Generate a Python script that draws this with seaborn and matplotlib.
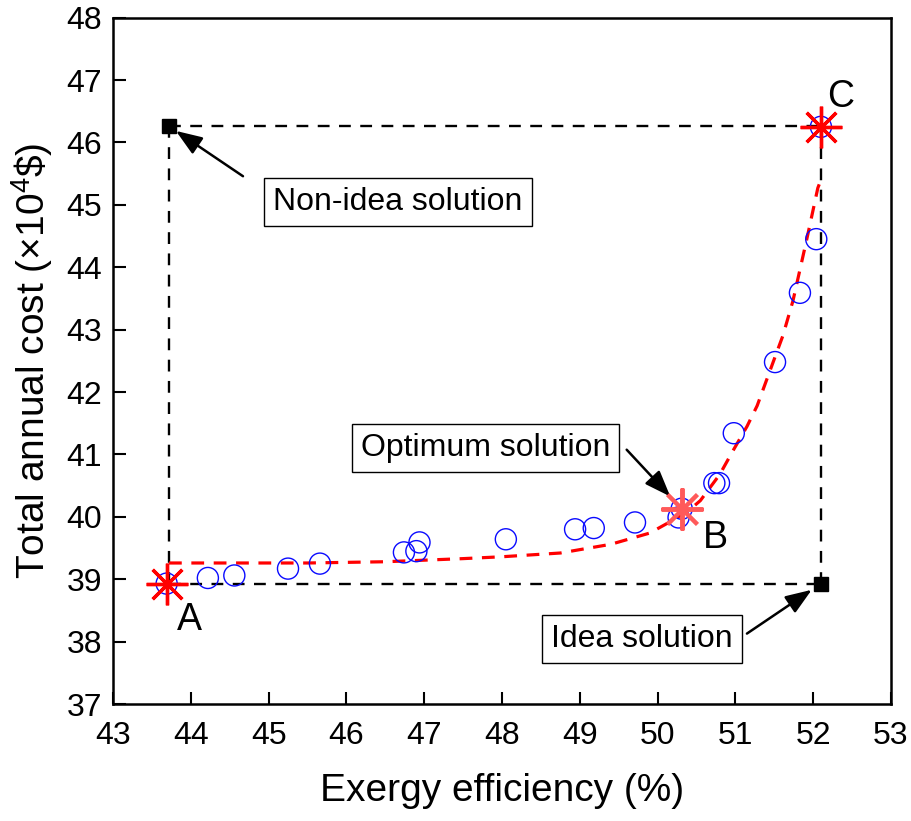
import numpy as np
import pandas as pd
import matplotlib
matplotlib.use("Agg")
import matplotlib.pyplot as plt
import seaborn as sns

# Pareto front: exergy efficiency (%) vs total annual cost (x10^4 $)
eff = [43.69, 44.22, 44.56, 45.25, 45.66, 46.74, 46.90, 46.94, 48.05,
       48.94, 49.18, 49.71, 50.27, 50.31, 50.73, 50.79, 50.98, 51.51,
       51.83, 52.04, 52.10]
cost = [38.93, 39.02, 39.06, 39.17, 39.25, 39.43, 39.45, 39.59, 39.64,
        39.80, 39.82, 39.91, 39.99, 40.13, 40.54, 40.54, 41.34, 42.48,
        43.59, 44.45, 46.25]

# Fitted trend of the front
fit_eff = [43.72, 44.5, 45.5, 46.5, 47.5, 48.0, 48.75, 49.4, 49.9, 50.16,
           50.4, 50.55, 50.8, 50.97, 51.15, 51.28, 51.48, 51.61, 51.74,
           51.92, 52.06, 52.10]
fit_cost = [39.26, 39.26, 39.26, 39.28, 39.33, 39.36, 39.42, 39.56, 39.74,
            39.92, 40.10, 40.26, 40.68, 41.06, 41.45, 41.78, 42.46, 42.90,
            43.46, 44.46, 45.27, 45.40]

# Highlighted solutions A, B, C
sol_names = ["A", "B", "C"]
sol_eff = [43.69, 50.31, 52.10]
sol_cost = [38.93, 40.13, 46.25]

# Ideal / non-ideal reference points
ideal = (52.10, 38.93)
nonideal = (43.72, 46.26)

x_ticks = list(range(43, 54))
y_ticks = list(range(37, 49))

sns.set_theme(style="ticks")
plt.rcParams["font.family"] = ["Liberation Sans", "DejaVu Sans"]
plt.rcParams["mathtext.fontset"] = "custom"
plt.rcParams["mathtext.rm"] = "Liberation Sans"
for key in ("text.color", "axes.labelcolor", "xtick.color", "ytick.color"):
    plt.rcParams[key] = "black"

fig = plt.figure(figsize=(9.11, 8.21), dpi=100)
ax = fig.add_axes([0.124, 0.1425, 0.854, 0.836])

front = pd.DataFrame({"eff": eff, "cost": cost})
trend = pd.DataFrame({"eff": fit_eff, "cost": fit_cost})

# reference rectangle between ideal and non-ideal points
dash = (0, (5, 4))
ax.plot([nonideal[0], ideal[0]], [nonideal[1], nonideal[1]], ls=dash,
        color="black", lw=1.7, zorder=1)
ax.plot([nonideal[0], ideal[0]], [ideal[1], ideal[1]], ls=dash,
        color="black", lw=1.7, zorder=1)
ax.plot([nonideal[0], nonideal[0]], [ideal[1], nonideal[1]], ls=dash,
        color="black", lw=1.7, zorder=1)
ax.plot([ideal[0], ideal[0]], [ideal[1], nonideal[1]], ls=dash,
        color="black", lw=1.7, zorder=1)

sns.lineplot(data=trend, x="eff", y="cost", sort=False, ax=ax, color="red",
             lw=2.3, zorder=2)
ax.lines[-1].set_linestyle((0, (4, 3)))

sns.scatterplot(data=front, x="eff", y="cost", ax=ax, marker="o",
                s=230, facecolor="none", edgecolor="#0a0aff", linewidth=1.0,
                zorder=3)

ax.plot(sol_eff, sol_cost, ls="none", marker=(8, 2, 0), ms=30,
        mec="red", mew=2.4, zorder=4)
ax.plot(sol_eff[1], sol_cost[1], ls="none", marker=(8, 2, 0), ms=30,
        mec="#ff5a5a", mew=2.8, zorder=5)

ax.plot([nonideal[0], ideal[0]], [nonideal[1], ideal[1]], ls="none",
        marker="s", ms=9.5, color="black", zorder=5)

# point letters
letter_offsets = [(23, -36), (34, -29), (20, 30)]
for name, x, y, off in zip(sol_names, sol_eff, sol_cost, letter_offsets):
    ax.annotate(name, (x, y), xytext=off, textcoords="offset pixels",
                ha="center", va="center", fontsize=27)

box = dict(boxstyle="square,pad=0.28", fc="white", ec="black", lw=1.0)
arrow = dict(arrowstyle="-|>,head_length=0.8,head_width=0.3", color="black",
             lw=1.8, shrinkA=0, mutation_scale=20)

callouts = [
    ("Non-idea solution", nonideal, (74, -50), 6, (229, -76)),
    ("Optimum solution", (sol_eff[1], sol_cost[1]), (-55, 59), 12, (-196, 61)),
    ("Idea solution", ideal, (-74, -50), 8, (-179, -55)),
]
for label, pt, tail, shrink, txt in callouts:
    ax.annotate("", xy=pt, xytext=tail, textcoords="offset pixels",
                arrowprops=dict(arrow, shrinkB=shrink))
    ax.annotate(label, xy=pt, xytext=txt, textcoords="offset pixels",
                ha="center", va="center", fontsize=23, bbox=box)

ax.set_xlim(43, 53)
ax.set_ylim(37, 48)
ax.set_xticks(x_ticks)
ax.set_yticks(y_ticks)
ax.tick_params(direction="in", length=9, width=1.5, labelsize=23,
               top=False, right=False)
ax.tick_params(axis="x", pad=12)
ax.tick_params(axis="y", pad=8)
for sp in ax.spines.values():
    sp.set_linewidth(1.8)
    sp.set_color("black")

ax.set_xlabel("Exergy efficiency (%)", fontsize=28, labelpad=16)
ax.set_ylabel(r"Total annual cost (×10$^4$\$)", fontsize=28, labelpad=8)

fig.savefig("out.png", dpi=100)
